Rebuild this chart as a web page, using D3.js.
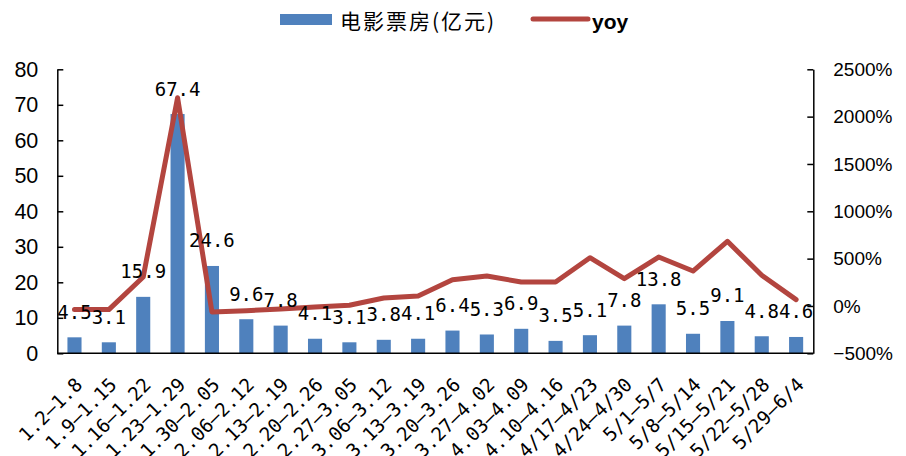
<!DOCTYPE html>
<html>
<head>
<meta charset="utf-8">
<script src="https://cdn.jsdelivr.net/npm/d3@7"></script>
<style>
  body { margin: 0; background: #fff; }
  svg { display: block; }
</style>
</head>
<body>
<div id="chart"></div>
<script>
// weekly box office (100m yuan) and yoy (%)
var categories = ['1.2–1.8', '1.9–1.15', '1.16–1.22', '1.23–1.29', '1.30–2.05', '2.06–2.12',
                  '2.13–2.19', '2.20–2.26', '2.27–3.05', '3.06–3.12', '3.13–3.19', '3.20–3.26',
                  '3.27–4.02', '4.03–4.09', '4.10–4.16', '4/17–4/23', '4/24–4/30', '5/1–5/7',
                  '5/8–5/14', '5/15–5/21', '5/22–5/28', '5/29–6/4'];
var boxOffice = [4.5, 3.1, 15.9, 67.4, 24.6, 9.6, 7.8, 4.1, 3.1, 3.8, 4.1, 6.4,
                 5.3, 6.9, 3.5, 5.1, 7.8, 13.8, 5.5, 9.1, 4.8, 4.6];
var yoy = [-38, -38, 306, 2200, -63, -50, -32, -12, 8, 84, 106, 278,
           317, 253, 253, 510, 289, 517, 369, 683, 324, 67];
var leftTicks = [0, 10, 20, 30, 40, 50, 60, 70, 80];
var rightTicks = [-500, 0, 500, 1000, 1500, 2000, 2500];
var seriesNames = ['电影票房(亿元)', 'yoy'];

var width = 906, height = 456;
var x0 = 57.3, x1 = 813.3, yTop = 69.3, yBot = 353.3;
var barColor = '#4f81bd', lineColor = '#b3453f';
var monoFont = '"DejaVu Sans Mono", monospace';

var svg = d3.select('#chart')
    .append('svg')
    .attr('width', width)
    .attr('height', height);

var x = d3.scaleBand().domain(categories).range([x0, x1]).padding(0);
var y = d3.scaleLinear().domain([0, 80]).range([yBot, yTop]);
var y2 = d3.scaleLinear().domain([-500, 2500]).range([yBot, yTop]);
var barW = x.bandwidth() * 0.41;

svg.append('defs').append('clipPath')
    .attr('id', 'plotclip')
    .append('rect')
    .attr('x', x0).attr('y', 0)
    .attr('width', x1 - x0).attr('height', yBot);

// bars
svg.append('g')
    .selectAll('rect')
    .data(boxOffice)
    .enter()
    .append('rect')
    .attr('x', function (d, i) { return x(categories[i]) + (x.bandwidth() - barW) / 2; })
    .attr('y', function (d) { return y(d); })
    .attr('width', barW)
    .attr('height', function (d) { return yBot - y(d); })
    .attr('fill', barColor);

// yoy line
var line = d3.line()
    .x(function (d, i) { return x(categories[i]) + x.bandwidth() / 2; })
    .y(function (d) { return y2(d); });

svg.append('path')
    .datum(yoy)
    .attr('d', line)
    .attr('fill', 'none')
    .attr('stroke', lineColor)
    .attr('stroke-width', 5)
    .attr('stroke-linejoin', 'round')
    .attr('stroke-linecap', 'round');

// bar value labels (cut at the axes like the original)
svg.append('g')
    .attr('clip-path', 'url(#plotclip)')
    .selectAll('text')
    .data(boxOffice)
    .enter()
    .append('text')
    .attr('x', function (d, i) { return x(categories[i]) + x.bandwidth() / 2; })
    .attr('y', function (d) { return y(d) - 18.5; })
    .attr('text-anchor', 'middle')
    .style('font-family', monoFont)
    .style('font-size', '19px')
    .attr('fill', '#000')
    .text(function (d) { return d3.format('.1f')(d); });

// left axis
var axL = svg.append('g')
    .attr('transform', 'translate(' + x0 + ',0)')
    .call(d3.axisLeft(y).tickValues(leftTicks).tickSizeInner(-6).tickSizeOuter(0).tickPadding(19));
axL.selectAll('text')
    .style('font-family', '"Liberation Sans", Arial, sans-serif')
    .style('font-size', '21.5px')
    .attr('fill', '#000');

// right axis
var axR = svg.append('g')
    .attr('transform', 'translate(' + x1 + ',0)')
    .call(d3.axisRight(y2).tickValues(rightTicks).tickSizeInner(-6).tickSizeOuter(0).tickPadding(20)
        .tickFormat(function (d) { return d3.format('d')(d).replace('-', '−') + '%'; }));
axR.selectAll('text')
    .style('font-family', '"Liberation Sans", Arial, sans-serif')
    .style('font-size', '19px')
    .attr('fill', '#000');

svg.selectAll('.domain, .tick line')
    .attr('stroke', '#000')
    .attr('stroke-width', 1.5);

// bottom axis line and rotated labels
svg.append('line')
    .attr('x1', x0).attr('x2', x1)
    .attr('y1', yBot).attr('y2', yBot)
    .attr('stroke', '#000')
    .attr('stroke-width', 1.5);

svg.append('g')
    .selectAll('text')
    .data(categories)
    .enter()
    .append('text')
    .attr('transform', function (d) {
        return 'translate(' + (x(d) + x.bandwidth() / 2 + 9) + ',386) rotate(-45)';
    })
    .attr('text-anchor', 'end')
    .style('font-family', monoFont)
    .style('font-size', '19px')
    .attr('fill', '#000')
    .text(function (d) { return d; });

// legend
var legend = svg.append('g');
legend.append('rect')
    .attr('x', 280).attr('y', 14)
    .attr('width', 52).attr('height', 11)
    .attr('fill', barColor);
legend.append('text')
    .attr('x', 340).attr('y', 29)
    .style('font-family', '"Noto Sans CJK SC", sans-serif')
    .style('font-size', '21px')
    .style('letter-spacing', '2px')
    .attr('fill', '#000')
    .text(seriesNames[0]);
legend.append('line')
    .attr('x1', 533).attr('x2', 588)
    .attr('y1', 19).attr('y2', 19)
    .attr('stroke', lineColor)
    .attr('stroke-width', 5)
    .attr('stroke-linecap', 'round');
legend.append('text')
    .attr('x', 592).attr('y', 28.5)
    .style('font-family', '"Liberation Sans", Arial, sans-serif')
    .style('font-weight', 'bold')
    .style('font-size', '21px')
    .attr('fill', '#000')
    .text(seriesNames[1]);
</script>
</body>
</html>
